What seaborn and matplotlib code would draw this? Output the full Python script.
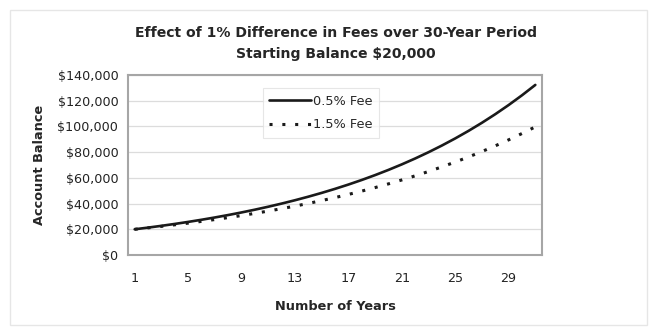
import matplotlib
matplotlib.use("Agg")
import matplotlib.pyplot as plt
import seaborn as sns
import pandas as pd
from matplotlib.ticker import FuncFormatter
from matplotlib.patches import Rectangle

years = list(range(1, 32))
fee_low = [20000, 21300, 22685, 24159, 25729, 27402, 29183, 31080, 33100, 35251,
           37543, 39983, 42582, 45350, 48297, 51437, 54780, 58341, 62133, 66172,
           70473, 75053, 79932, 85127, 90660, 96553, 102829, 109513, 116631, 124212,
           132287]
fee_high = [20000, 21100, 22261, 23485, 24777, 26139, 27577, 29094, 30694, 32382,
            34163, 36042, 38024, 40116, 42322, 44650, 47106, 49697, 52430, 55313,
            58356, 61565, 64951, 68524, 72292, 76268, 80463, 84889, 89558, 94483,
            99680]
series_names = ["0.5% Fee", "1.5% Fee"]
x_ticks = [1, 5, 9, 13, 17, 21, 25, 29]
y_ticks = [0, 20000, 40000, 60000, 80000, 100000, 120000, 140000]

df = pd.DataFrame({
    "Year": years * 2,
    "Balance": fee_low + fee_high,
    "Series": [series_names[0]] * len(years) + [series_names[1]] * len(years),
})

sns.set_style("white")
plt.rcParams["font.family"] = ["DejaVu Sans"]

fig = plt.figure(figsize=(6.55, 3.28), dpi=100)
fig.patches.append(Rectangle((10 / 655, 1 - 325 / 328), 637 / 655, 315 / 328,
                             transform=fig.transFigure, fill=False,
                             edgecolor="#e6e6e6", linewidth=1.0))
ax = fig.add_axes([128 / 655, 1 - 255 / 328, 414 / 655, 180 / 328])

sns.lineplot(data=df, x="Year", y="Balance", hue="Series", style="Series",
             palette=["#1a1a1a", "#1a1a1a"],
             dashes={series_names[0]: "", series_names[1]: (1, 3.2)},
             linewidth=1.9, ax=ax)
lines = ax.get_lines()
for ln in lines:
    ln.set_dash_capstyle("butt")
lines[1].set_linewidth(2.2)

ax.set_xlim(0.5, 31.5)
ax.set_ylim(0, 140000)
ax.set_xticks(x_ticks)
ax.set_yticks(y_ticks)
ax.yaxis.set_major_formatter(FuncFormatter(lambda v, p: f"${v:,.0f}"))
ax.grid(axis="y", color="#dcdcdc", linewidth=0.9)
ax.grid(axis="x", visible=False)
ax.set_axisbelow(True)
for sp in ax.spines.values():
    sp.set_visible(True)
    sp.set_color("#a6a6a6")
    sp.set_linewidth(1.5)
ax.tick_params(axis="both", length=0, labelsize=9.2, colors="#222222")
ax.tick_params(axis="x", pad=12)
ax.tick_params(axis="y", pad=7)
ax.set_xlabel("Number of Years", fontsize=9.3, fontweight="bold", labelpad=11)
ax.set_ylabel("Account Balance", fontsize=9.3, fontweight="bold", labelpad=8.5)

fig.text(336 / 655, 1 - 33 / 328, "Effect of 1% Difference in Fees over 30-Year Period",
         ha="center", va="center", fontsize=10.1, fontweight="bold")
fig.text(336 / 655, 1 - 54 / 328, "Starting Balance $20,000",
         ha="center", va="center", fontsize=10.1, fontweight="bold")

leg = ax.legend(loc="upper left", bbox_to_anchor=(0.326, 0.925), fontsize=9.3,
                frameon=True, handlelength=3.2, handletextpad=0.15,
                labelspacing=0.8, borderpad=0.5, borderaxespad=0, fancybox=False)
leg.get_frame().set_edgecolor("#e0e0e0")
leg.get_frame().set_linewidth(0.8)
leg_lines = leg.get_lines()
for h in leg_lines:
    h.set_linewidth(1.9)
    h.set_dash_capstyle("butt")
leg_lines[1].set_linewidth(2.2)

fig.savefig("out.png", dpi=100)
